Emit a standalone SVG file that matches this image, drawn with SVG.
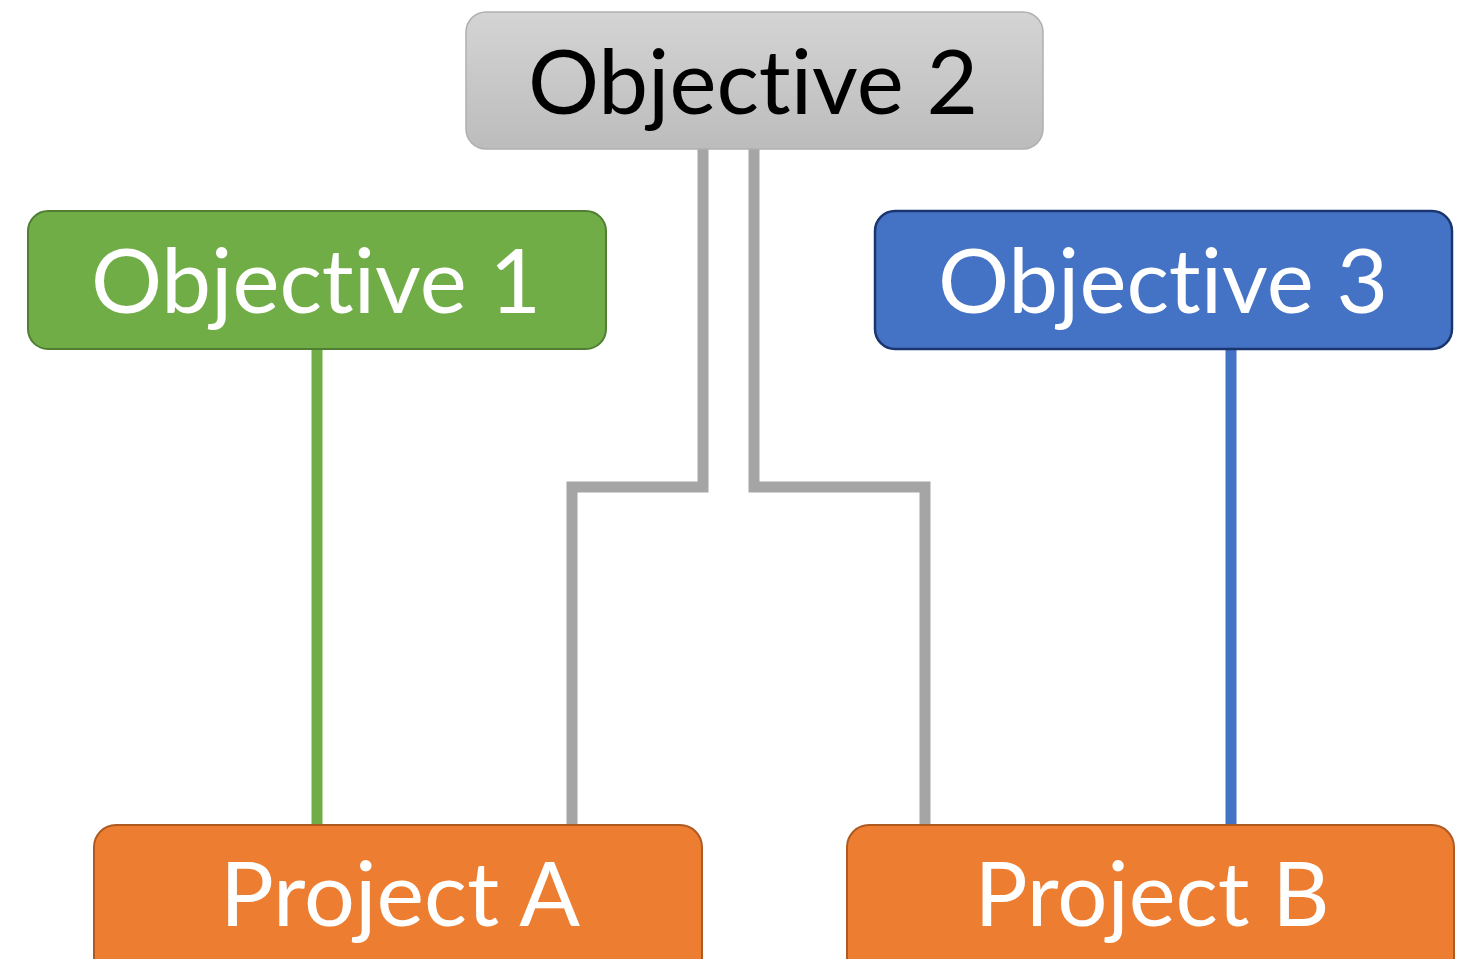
<svg xmlns="http://www.w3.org/2000/svg" width="1475" height="959" viewBox="0 0 1475 959">
  <defs>
    <linearGradient id="grayGrad" x1="0" y1="0" x2="0" y2="1">
      <stop offset="0" stop-color="#d4d4d4"/>
      <stop offset="1" stop-color="#bcbcbc"/>
    </linearGradient>
    <style>
      .lbl { font-family: Lato, "Liberation Sans", sans-serif; font-size: 90px; text-anchor: middle; font-variant-ligatures: none; font-feature-settings: "liga" 0, "clig" 0; }
      .white { fill: #ffffff; }
      .black { fill: #000000; }
      .conn { fill: none; stroke-width: 11; stroke-linejoin: miter; }
    </style>
  </defs>
  <rect width="1475" height="959" fill="#ffffff"/>

  <g id="connectors">
    <path class="conn" stroke="#a5a5a5" d="M703,148 V487 H572 V826"/>
    <path class="conn" stroke="#a5a5a5" d="M754,148 V487 H925 V826"/>
    <path class="conn" stroke="#70ad47" d="M317,348 V826"/>
    <path class="conn" stroke="#4472c4" d="M1231,348 V826"/>
  </g>

  <g id="objective2">
    <rect x="466" y="12" width="577" height="137" rx="20" fill="url(#grayGrad)" stroke="#b0b0b0" stroke-width="1.5"/>
    <text class="lbl black" x="753" y="114" textLength="450" lengthAdjust="spacingAndGlyphs">Objective 2</text>
  </g>

  <g id="objective1">
    <rect x="28" y="211" width="578" height="138" rx="20" fill="#70ad47" stroke="#507e32" stroke-width="2"/>
    <text class="lbl white" x="316" y="313" textLength="450" lengthAdjust="spacingAndGlyphs">Objective 1</text>
  </g>

  <g id="objective3">
    <rect x="875" y="211" width="577" height="138" rx="20" fill="#4472c4" stroke="#1a3570" stroke-width="2.5"/>
    <text class="lbl white" x="1163" y="313" textLength="450" lengthAdjust="spacingAndGlyphs">Objective 3</text>
  </g>

  <g id="projectA">
    <rect x="94" y="825" width="608" height="170" rx="22" fill="#ed7d31" stroke="#ae5a21" stroke-width="2"/>
    <text class="lbl white" x="400" y="926" textLength="360" lengthAdjust="spacingAndGlyphs">Project A</text>
  </g>

  <g id="projectB">
    <rect x="847" y="825" width="607" height="170" rx="22" fill="#ed7d31" stroke="#ae5a21" stroke-width="2"/>
    <text class="lbl white" x="1152" y="926" textLength="355" lengthAdjust="spacingAndGlyphs">Project B</text>
  </g>
</svg>
